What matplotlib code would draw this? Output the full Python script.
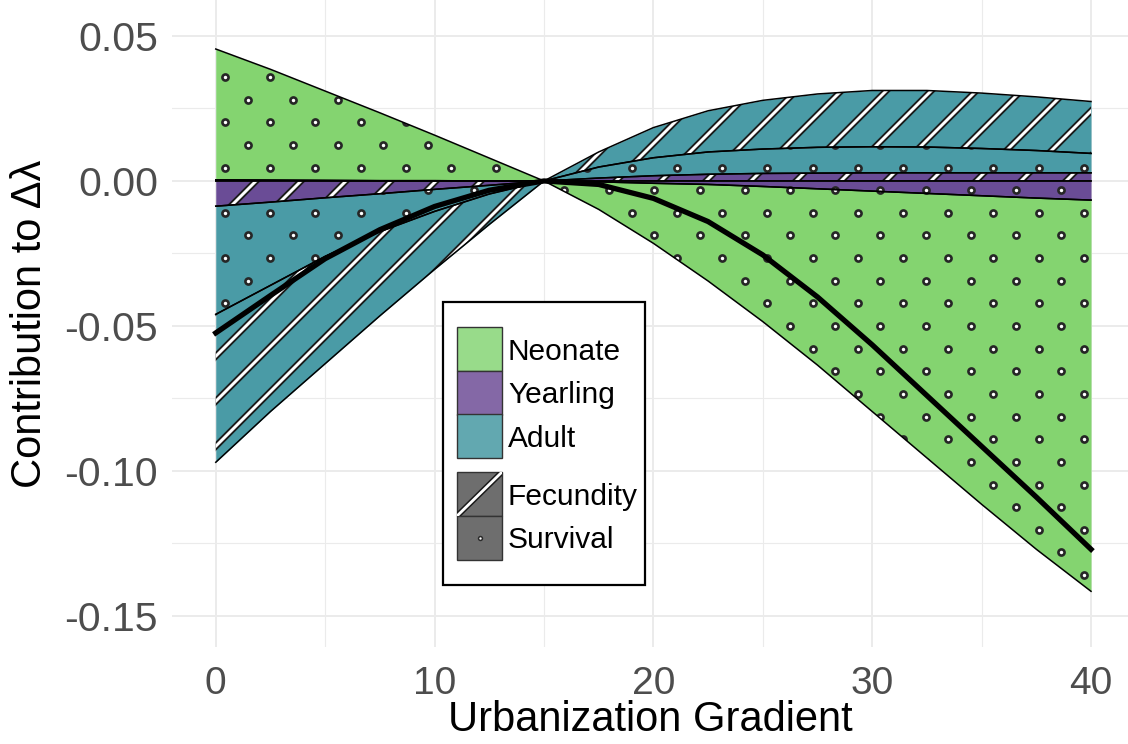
import numpy as np
import matplotlib
matplotlib.use("Agg")
import matplotlib.pyplot as plt
from matplotlib.patches import Polygon, Rectangle
from matplotlib.collections import LineCollection
from matplotlib.transforms import IdentityTransform

plt.rcParams['font.family'] = ['Liberation Sans', 'DejaVu Sans']

# urbanization gradient and contributions to delta lambda
urban = [0, 2.5, 5, 7.5, 10, 12.5, 15, 17.5, 20, 22.5, 25, 27.5, 30, 32.5, 35, 37.5, 40]
yearling_fec = [-0.0087, -0.0073, -0.0058, -0.0044, -0.0029, -0.0015, 0.0,
                0.0010, 0.0018, 0.0023, 0.0026, 0.0027, 0.0028, 0.0028, 0.0028, 0.0028, 0.0028]
yearling_surv = [0.0004, 0.0003, 0.0002, 0.0001, 0.0001, 0.0, 0.0,
                 -0.0003, -0.0008, -0.0012, -0.0019, -0.0027, -0.0035, -0.0043, -0.0051, -0.0059, -0.0066]
adult_surv = [-0.0373, -0.0287, -0.0202, -0.0131, -0.0076, -0.0030, 0.0,
              0.0038, 0.0062, 0.0077, 0.0084, 0.0089, 0.0090, 0.0089, 0.0084, 0.0077, 0.0067]
adult_fec = [-0.0510, -0.0435, -0.0370, -0.0290, -0.0200, -0.0105, 0.0,
             0.0052, 0.0104, 0.0142, 0.0168, 0.0184, 0.0194, 0.0195, 0.0191, 0.0185, 0.0179]
neonate_surv = [0.0451, 0.0382, 0.0308, 0.0234, 0.0157, 0.0079, 0.0,
                -0.0095, -0.0207, -0.0333, -0.0466, -0.0608, -0.0760, -0.0912, -0.1064, -0.1211, -0.1349]
net_contrib = [-0.0524, -0.0395, -0.0268, -0.0168, -0.0088, -0.0032, 0.0,
               -0.0012, -0.0060, -0.0140, -0.0255, -0.0400, -0.0565, -0.0740, -0.0915, -0.1090, -0.1270]

# stacking order, from zero outwards
layers = [
    ("Yearling", "Fecundity", yearling_fec),
    ("Yearling", "Survival", yearling_surv),
    ("Adult", "Survival", adult_surv),
    ("Adult", "Fecundity", adult_fec),
    ("Neonate", "Survival", neonate_surv),
]
stages = ["Neonate", "Yearling", "Adult"]
rates = ["Fecundity", "Survival"]

area_colors = {"Neonate": "#84d470", "Yearling": "#6a4c96", "Adult": "#4a9ba6"}
key_colors = {"Neonate": "#98db8a", "Yearling": "#8468a6", "Adult": "#62a8b0"}

W, H = 1128, 744
fig = plt.figure(figsize=(W / 100, H / 100), dpi=100)
ax = fig.add_axes([172 / W, 97 / H, 956 / W, 647 / H])


def add_stripes(axis, clip, spacing=45, phase=37):
    ks = np.arange(-28, 19)
    segs = [[(-60, -60 + phase + spacing * k), (W + 60, W + 60 + phase + spacing * k)] for k in ks]
    for col, lw in (("#1a1a1a", 4.8), ("white", 2.1)):
        lc = LineCollection(segs, colors=col, linewidths=lw, transform=IdentityTransform(), zorder=3)
        axis.add_collection(lc, autolim=False)
        lc.set_clip_path(clip)


def add_dots(axis, clip, dx=45.2, dy=22.64):
    xs, ys = [], []
    for k in range(-4, 31):
        off = dx / 2 if k % 2 else 0
        for j in range(-6, 24):
            xs.append(225 + off + dx * j)
            ys.append(667 - dy * k)
    ln, = axis.plot(xs, ys, "o", ms=4.4, mfc="white", mec="#262626", mew=1.9,
                    transform=IdentityTransform(), zorder=3)
    ln.set_clip_path(clip)


x = np.array(urban)
pos_base = np.zeros_like(x)
neg_base = np.zeros_like(x)
for stage, rate, vals in layers:
    v = np.array(vals)
    lo = np.where(v >= 0, pos_base, neg_base + v)
    hi = np.where(v >= 0, pos_base + v, neg_base)
    pos_base = pos_base + np.clip(v, 0, None)
    neg_base = neg_base + np.clip(v, None, 0)
    ax.fill_between(x, lo, hi, color=area_colors[stage], lw=0, zorder=2)
    clip = Polygon(np.column_stack([np.r_[x, x[::-1]], np.r_[hi, lo[::-1]]]),
                   closed=True, transform=ax.transData)
    if rate == "Fecundity":
        add_stripes(ax, clip)
    else:
        add_dots(ax, clip)
    ax.plot(x, lo, color="black", lw=1.1, zorder=4)
    ax.plot(x, hi, color="black", lw=1.1, zorder=4)

ax.plot(x, net_contrib, color="black", lw=3.8, zorder=5)

ax.set_xlim(-2, 41.69)
ax.set_ylim(-0.1607, 0.0624)
for s in ax.spines.values():
    s.set_visible(False)
ax.set_xticks([0, 10, 20, 30, 40])
ax.set_xticks([5, 15, 25, 35], minor=True)
ax.set_yticks([0.05, 0.0, -0.05, -0.10, -0.15])
ax.set_yticklabels(["0.05", "0.00", "-0.05", "-0.10", "-0.15"])
ax.set_yticks([0.025, -0.025, -0.075, -0.125], minor=True)
ax.grid(which="major", color="#ebebeb", lw=1.4)
ax.grid(which="minor", color="#ebebeb", lw=0.8)
ax.set_axisbelow(True)
ax.tick_params(which="both", length=0)
ax.tick_params(axis="x", labelsize=28, pad=14, labelcolor="#4d4d4d")
ax.tick_params(axis="y", labelsize=29.5, pad=10, labelcolor="#4d4d4d")

ax.set_xlabel("Urbanization Gradient", fontsize=30)
ax.xaxis.set_label_coords(0.5, (24 - 97) / 647)
ax.xaxis.label.set_va("center")
ax.set_ylabel("Contribution to Δλ", fontsize=30)
ax.yaxis.set_label_coords((30 - 172) / 956, 0.5)
ax.yaxis.label.set_va("center")

# legend drawn by hand in pixel units
lax = fig.add_axes([443 / W, 1 - 585 / H, 202 / W, 283 / H])
lax.set_xlim(443, 645)
lax.set_ylim(585, 302)
lax.axis("off")
lax.add_patch(Rectangle((443, 302), 202, 283, fc="white", ec="black", lw=1.6, clip_on=False))
key_x, key_w = 457, 45
key_rows = {"Neonate": (327, 360), "Yearling": (371, 403), "Adult": (414, 447),
            "Fecundity": (472, 505), "Survival": (516, 548)}
for stage in stages:
    top, base = key_rows[stage]
    lax.add_patch(Rectangle((key_x, top), key_w, 44, fc=key_colors[stage], ec="#333333", lw=1))
    lax.text(508, base, stage, fontsize=21.5, va="baseline", ha="left")
for rate in rates:
    top, base = key_rows[rate]
    box = Rectangle((key_x, top), key_w, 44, fc="#6e6e6e", ec="#333333", lw=1)
    lax.add_patch(box)
    if rate == "Fecundity":
        for col, lw in (("#1a1a1a", 4.2), ("white", 2.0)):
            ln, = lax.plot([key_x, key_x + key_w], [top + 44, top], color=col, lw=lw)
            ln.set_clip_path(box)
    else:
        lax.plot([key_x + key_w / 2], [top + 22], "o", ms=2.8, mfc="white", mec="#2b2b2b", mew=1.1)
    lax.text(508, base, rate, fontsize=21.5, va="baseline", ha="left")

fig.savefig("out.png", dpi=100)
